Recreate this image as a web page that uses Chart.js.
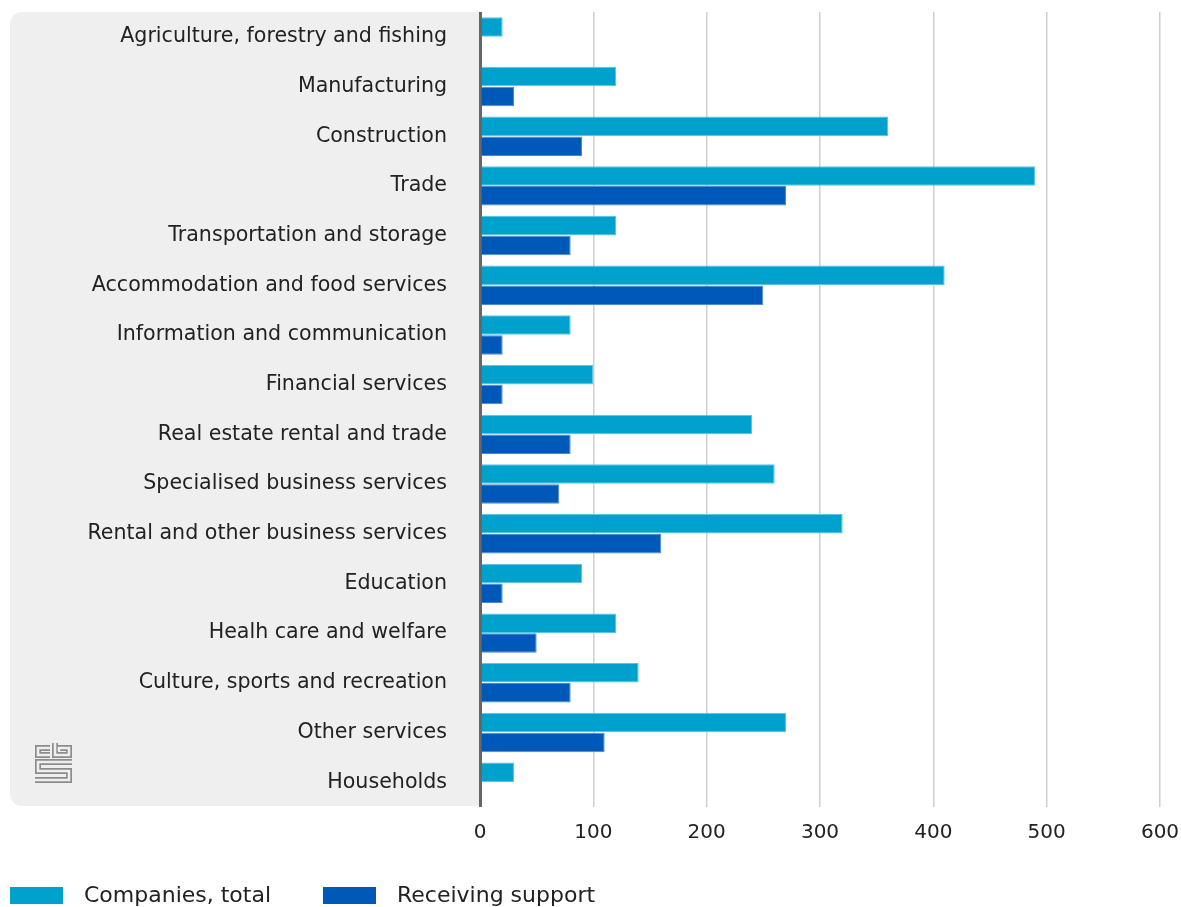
<!DOCTYPE html>
<html>
<head>
<meta charset="utf-8">
<script src="https://cdn.jsdelivr.net/npm/chart.js@4/dist/chart.umd.min.js"></script>
<style>
  html, body { margin: 0; padding: 0; background: #fff; }
  #wrap { position: relative; width: 1181px; height: 907px; }
</style>
</head>
<body>
<div id="wrap"><canvas id="grafico"></canvas></div>
<script>
const sectores = [
    'Agriculture, forestry and fishing',
    'Manufacturing',
    'Construction',
    'Trade',
    'Transportation and storage',
    'Accommodation and food services',
    'Information and communication',
    'Financial services',
    'Real estate rental and trade',
    'Specialised business services',
    'Rental and other business services',
    'Education',
    'Healh care and welfare',
    'Culture, sports and recreation',
    'Other services',
    'Households'
];
const empresasTotal = [20, 120, 360, 490, 120, 410, 80, 100, 240, 260, 320, 90, 120, 140, 270, 30];
const conApoyo = [0, 30, 90, 270, 80, 250, 20, 20, 80, 70, 160, 20, 50, 80, 110, 0];
const ticksX = [0, 100, 200, 300, 400, 500, 600];

const FUENTE = 'DejaVu Sans';
const TEXTO = '#222222';

// panel gris detras de las etiquetas + logo
const fondoPanel = {
    id: 'fondoPanel',
    beforeDraw(chart) {
        const { ctx, chartArea } = chart;
        const x0 = 10, y0 = chartArea.top, x1 = chartArea.left + 1, y1 = chartArea.bottom - 1, r = 12;
        ctx.save();
        ctx.fillStyle = '#efefef';
        ctx.beginPath();
        ctx.moveTo(x1, y0);
        ctx.lineTo(x0 + r, y0);
        ctx.arcTo(x0, y0, x0, y0 + r, r);
        ctx.lineTo(x0, y1 - r);
        ctx.arcTo(x0, y1, x0 + r, y1, r);
        ctx.lineTo(x1, y1);
        ctx.closePath();
        ctx.fill();

        // logo cbs, trazo doble
        const trazos = [
            [[50, 748], [38, 748], [38, 755], [50, 755]],
            [[55, 743], [55, 755], [69, 755], [69, 748], [59, 748], [59, 751]],
            [[72, 762], [38, 762], [38, 771], [69, 771], [69, 780], [35, 780]]
        ];
        ctx.lineJoin = 'miter';
        ctx.lineCap = 'butt';
        [[6, '#8c8c8c'], [2.6, '#efefef']].forEach(([w, c]) => {
            ctx.lineWidth = w;
            ctx.strokeStyle = c;
            trazos.forEach(t => {
                ctx.beginPath();
                t.forEach(([px, py], i) => i ? ctx.lineTo(px, py) : ctx.moveTo(px, py));
                ctx.stroke();
            });
        });
        ctx.restore();
    }
};

// leyenda propia abajo a la izquierda
const leyenda = {
    id: 'leyenda',
    afterDraw(chart) {
        const { ctx } = chart;
        const posiciones = [10, 323];
        ctx.save();
        ctx.font = `22px "${FUENTE}"`;
        ctx.textBaseline = 'middle';
        chart.data.datasets.forEach((ds, i) => {
            const x = posiciones[i];
            ctx.fillStyle = ds.backgroundColor;
            ctx.fillRect(x, 887, 53, 17);
            ctx.fillStyle = TEXTO;
            ctx.fillText(ds.label, x + 74, 896);
        });
        ctx.restore();
    }
};

const ctx = document.getElementById('grafico').getContext('2d');
new Chart(ctx, {
    type: 'bar',
    data: {
        labels: sectores,
        datasets: [{
            label: 'Companies, total',
            data: empresasTotal,
            backgroundColor: '#00a1cd',
            borderColor: '#5cc4e4',
            borderWidth: 1,
            categoryPercentage: 0.8,
            barPercentage: 0.98
        }, {
            label: 'Receiving support',
            data: conApoyo,
            backgroundColor: '#0058b8',
            borderColor: '#4d8bd0',
            borderWidth: 1,
            categoryPercentage: 0.8,
            barPercentage: 0.98
        }]
    },
    options: {
        indexAxis: 'y',
        responsive: true,
        maintainAspectRatio: false,
        animation: false,
        layout: { padding: { top: 12, left: 10, right: 21, bottom: 0 } },
        plugins: {
            legend: { display: false },
            tooltip: { enabled: false }
        },
        scales: {
            x: {
                min: 0,
                max: 600,
                afterBuildTicks: scale => { scale.ticks = ticksX.map(v => ({ value: v })); },
                afterFit: scale => {
                    scale.height = 100;
                    scale.paddingLeft = 0;
                    scale.paddingRight = 0;
                },
                border: { display: false },
                grid: {
                    drawTicks: false,
                    color: c => c.tick && c.tick.value === 0 ? '#666666' : '#cfcfcf',
                    lineWidth: c => c.tick && c.tick.value === 0 ? 3 : 1.5
                },
                ticks: {
                    padding: 14,
                    color: TEXTO,
                    font: { family: FUENTE, size: 20 }
                }
            },
            y: {
                afterFit: scale => {
                    scale.width = 470;
                    scale.paddingTop = 0;
                    scale.paddingBottom = 0;
                },
                border: { display: false },
                grid: { display: false, drawTicks: false },
                ticks: {
                    padding: 33,
                    color: TEXTO,
                    font: { family: FUENTE, size: 20.6 }
                }
            }
        }
    },
    plugins: [fondoPanel, leyenda]
});
</script>
</body>
</html>
